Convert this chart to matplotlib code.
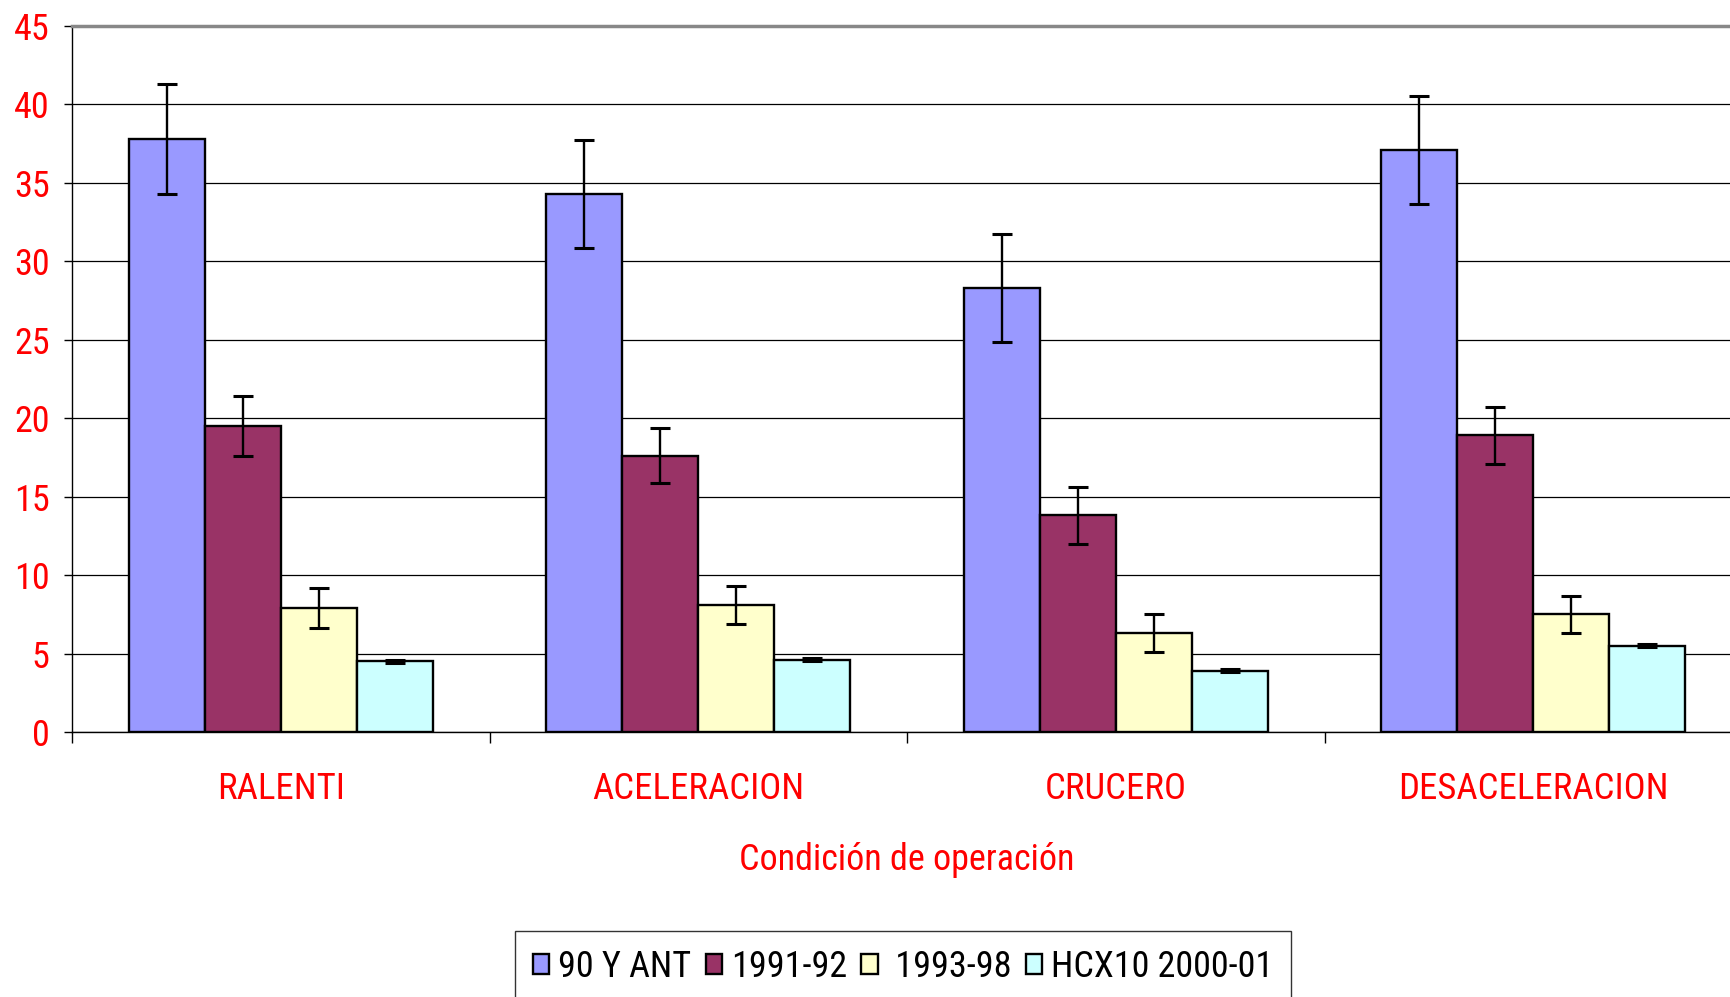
import matplotlib.pyplot as plt
import numpy as np

plt.rcParams['font.family'] = ['Roboto Condensed', 'Liberation Sans', 'DejaVu Sans']

categorias = ["RALENTI", "ACELERACION", "CRUCERO", "DESACELERACION"]
series = ["90 Y ANT", "1991-92", " 1993-98", "HCX10 2000-01"]
colores = ["#9999FF", "#993366", "#FFFFCC", "#CCFFFF"]

v_90 = [37.8, 34.3, 28.3, 37.1]
v_9192 = [19.5, 17.6, 13.8, 18.9]
v_9398 = [7.9, 8.1, 6.3, 7.5]
v_hcx = [4.5, 4.6, 3.9, 5.5]

e_90 = [3.5, 3.45, 3.45, 3.45]
e_9192 = [1.9, 1.75, 1.8, 1.8]
e_9398 = [1.3, 1.2, 1.2, 1.2]
e_hcx = [0.1, 0.1, 0.1, 0.1]

valores = [v_90, v_9192, v_9398, v_hcx]
errores = [e_90, e_9192, e_9398, e_hcx]

fig = plt.figure(figsize=(17.31, 9.97), dpi=100)
ax = fig.add_axes([72/1731, 265/997, 1670/1731, 706/997])

ancho = 1/5.5
x0 = np.arange(len(categorias)) + 0.75/5.5
for k in range(4):
    ax.bar(x0 + k*ancho + ancho/2, valores[k], ancho, color=colores[k],
           edgecolor='black', linewidth=1.7, label=series[k], zorder=3,
           yerr=errores[k], capsize=7.5,
           error_kw=dict(ecolor='black', elinewidth=1.7, capthick=2.2, zorder=4))

ax.set_xlim(0, 4)
ax.set_ylim(0, 45)
ax.set_yticks(np.arange(0, 46, 5))
ax.yaxis.grid(True, color='black', linewidth=0.9, zorder=0)
ax.set_axisbelow(True)

ax.set_xticks(np.arange(0, 5))
ax.set_xticklabels([])
ax.set_xticks(np.arange(4) + 0.5, minor=True)
ax.set_xticklabels(categorias, minor=True, color='red', fontsize=26.5)
ax.tick_params(axis='x', which='major', length=8, width=1, direction='out')
ax.tick_params(axis='x', which='minor', length=0, pad=28)
ax.tick_params(axis='y', length=6, width=1, colors='black', labelcolor='red',
               labelsize=26, pad=10)

ax.spines['right'].set_visible(False)
ax.spines['top'].set_color('#888888')
ax.spines['top'].set_linewidth(2.5)
ax.spines['left'].set_linewidth(1)
ax.spines['bottom'].set_linewidth(1)

ax.set_xlabel("Condición de operación", color='red', fontsize=26, labelpad=25)

leg = fig.legend(loc='upper center', bbox_to_anchor=(903/1731, 1 - 931/997),
                 ncol=4, fontsize=26, frameon=True, fancybox=False,
                 handlelength=0.45, handleheight=0.45, handletextpad=0.25,
                 columnspacing=0.4, borderpad=0.5, borderaxespad=0)
leg.get_frame().set_edgecolor('black')
leg.get_frame().set_linewidth(1)

fig.savefig("out.png", dpi=100)
